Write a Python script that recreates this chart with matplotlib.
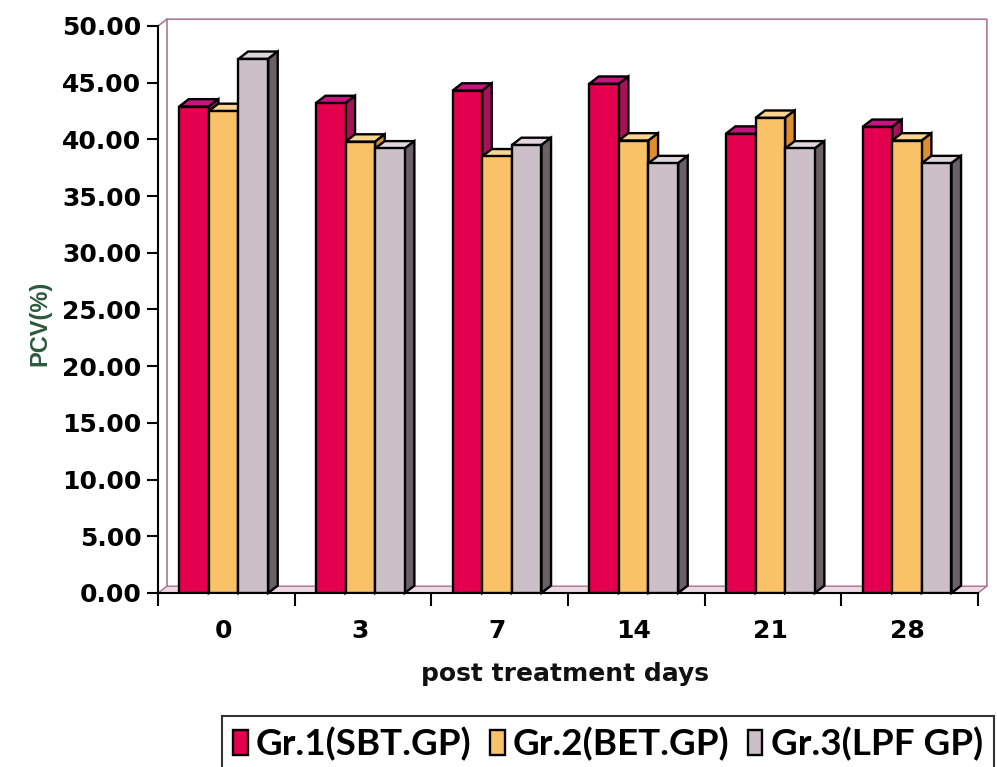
import numpy as np
import matplotlib
matplotlib.use("Agg")
import matplotlib.pyplot as plt
from matplotlib.patches import Polygon

# PCV values per group on each sampling day
days = ["0", "3", "7", "14", "21", "28"]
gr1_sbt = [42.9, 43.2, 44.3, 44.9, 40.5, 41.1]
gr2_bet = [42.5, 39.8, 38.5, 39.9, 41.9, 39.9]
gr3_lpf = [47.1, 39.2, 39.5, 37.9, 39.2, 37.9]
series_names = ["Gr.1(SBT.GP)", "Gr.2(BET.GP)", "Gr.3(LPF GP)"]

# front / top / side face colours for the pseudo-3D columns
faces = [
    ("#E5004F", "#C8147E", "#A8105A"),
    ("#F9C266", "#FAD590", "#DE8E2C"),
    ("#CDBFC8", "#DED6DC", "#6A6066"),
]

fig = plt.figure(figsize=(9.97, 7.67), dpi=100)
ax = fig.add_axes([158 / 997, 174 / 767, 820 / 997, 567 / 767])
n = len(days)
ax.set_xlim(0, n)
ax.set_ylim(0, 50)

# depth offsets (data units) for walls and column faces
wx, wy = 0.065, 0.6
bx, by = 0.07, 0.65

# floor and back wall outline
floor = Polygon([(0, 0), (n, 0), (n + wx, wy), (wx, wy)], closed=True,
                facecolor="#EDD9E3", edgecolor="#A8708C", lw=1, zorder=1, clip_on=False)
ax.add_patch(floor)
wall_kw = dict(color="#B07890", lw=1.2, clip_on=False, zorder=0.5)
ax.plot([0, wx, n + wx, n + wx], [50, 50 + wy, 50 + wy, wy], **wall_kw)
ax.plot([wx, wx], [wy, 50 + wy], **wall_kw)

bw = 0.217
x0 = np.arange(n) + 0.155
handles = []
for s, vals in enumerate([gr1_sbt, gr2_bet, gr3_lpf]):
    front, top, side = faces[s]
    z = 3 + s
    bars = ax.bar(x0 + s * bw, vals, width=bw, align="edge", color=front,
                  edgecolor="black", linewidth=1.7, zorder=z + 0.1, label=series_names[s])
    handles.append(bars)
    for r in bars:
        x, h, w = r.get_x(), r.get_height(), r.get_width()
        ax.add_patch(Polygon([(x, h), (x + w, h), (x + w + bx, h + by), (x + bx, h + by)],
                             closed=True, facecolor=top, edgecolor="black", lw=1.7,
                             zorder=z, clip_on=False))
        ax.add_patch(Polygon([(x + w, 0), (x + w + bx, by), (x + w + bx, h + by), (x + w, h)],
                             closed=True, facecolor=side, edgecolor="black", lw=1.7,
                             zorder=z, clip_on=False))

# axes
for sp in ["top", "right"]:
    ax.spines[sp].set_visible(False)
for sp in ["left", "bottom"]:
    ax.spines[sp].set_linewidth(1.5)
    ax.spines[sp].set_zorder(2)

tick_font = dict(family="DejaVu Sans", weight="bold", size=18)
ax.set_yticks(np.arange(0, 50.1, 5))
ax.set_yticklabels([f"{v:.2f}" for v in np.arange(0, 50.1, 5)], fontdict=tick_font)
ax.tick_params(axis="y", length=8, width=1.5, pad=4)

ax.set_xticks(np.arange(n + 1))
ax.set_xticklabels([])
ax.set_xticks(np.arange(n) + 0.48, minor=True)
ax.set_xticklabels(days, minor=True, fontdict=tick_font)
ax.tick_params(axis="x", which="major", length=9, width=1.5)
ax.tick_params(axis="x", which="minor", length=0, pad=19)

ax.set_ylabel("PCV(%)", family="Liberation Sans", weight="bold", size=17, color="#2C5A3C")
ax.yaxis.set_label_coords(-0.13, 0.475)
ax.set_xlabel("post treatment days", family="DejaVu Sans", weight="bold", size=18, color="#111111")
ax.xaxis.set_label_coords(0.496, -0.122)

leg = fig.legend(handles=handles, loc="upper left", bbox_to_anchor=(222 / 997, 1 - 716 / 767),
                 ncol=3, frameon=True, fancybox=False, edgecolor="black",
                 prop=dict(family="Lato", weight="bold", size=26.5),
                 handlelength=0.4, handleheight=0.7, handletextpad=0.22,
                 columnspacing=0.5, borderpad=0.3, borderaxespad=0)
leg.get_frame().set_linewidth(1.5)

fig.savefig("out.png", dpi=100)
